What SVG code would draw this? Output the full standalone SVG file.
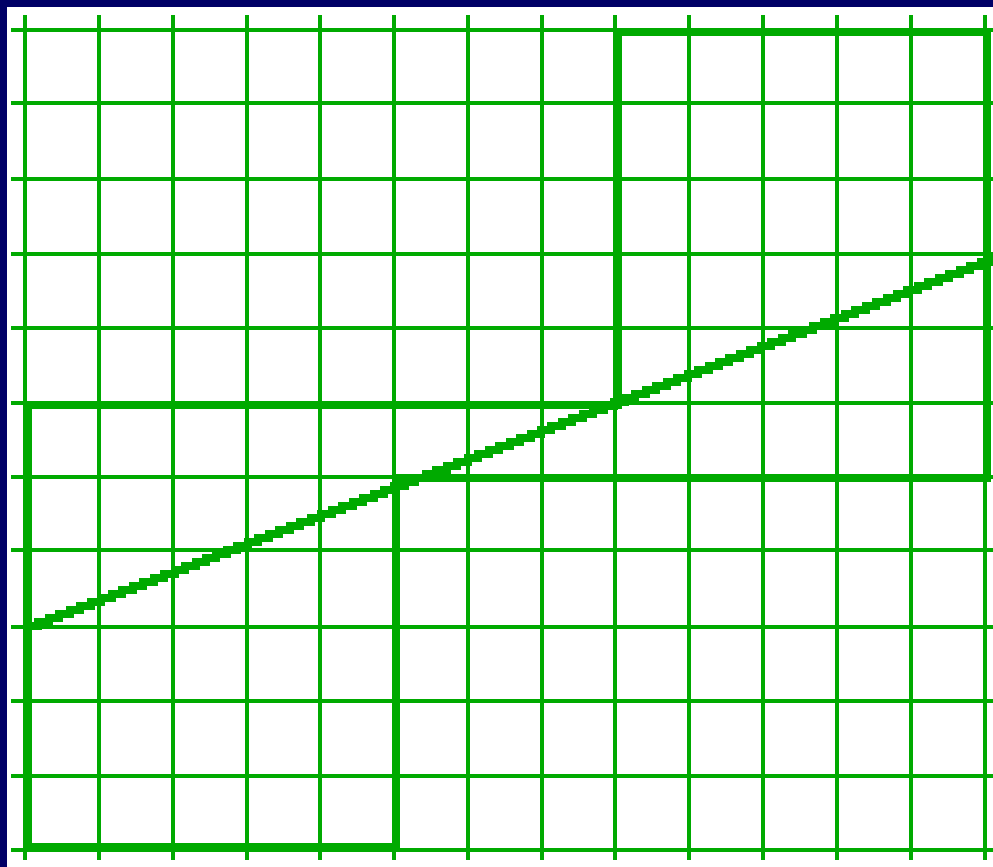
<svg xmlns="http://www.w3.org/2000/svg" width="993" height="867" viewBox="0 0 993 867">
<style>
.g{stroke:#00aa00;stroke-width:4;fill:none;shape-rendering:crispEdges}
.t{stroke:#00aa00;stroke-width:8;fill:none;shape-rendering:crispEdges}
.d{stroke:#00aa00;stroke-width:8;fill:none;stroke-linejoin:miter;shape-rendering:crispEdges}
</style>
<rect x="0" y="0" width="993" height="867" fill="#ffffff"/>
<rect x="0" y="0" width="993" height="7" fill="#000066"/>
<rect x="0" y="0" width="7" height="867" fill="#000066"/>
<g id="grid">
<path class="g" d="M25 15V860M99 15V860M173 15V860M247 15V860M320 15V860M394 15V860M468 15V860M542 15V860M615 15V860M689 15V860M763 15V860M837 15V860M911 15V860M984.5 15V860"/>
<path class="g" d="M11 29.5H993M11 103H993M11 179H993M11 254H993M11 328H993M11 403H993M11 476.5H993M11 550H993M11 627H993M11 701H993M11 776H993M11 849.5H993"/>
</g>
<g id="rectA">
<path class="t" d="M28 401V851M24 847H400M396 474V851M24 405H622"/>
</g>
<g id="rectB">
<path class="t" d="M614 32H991M987 28V482M618 28V409M392 478H991"/>
</g>
<g id="connectors">
<path class="d" d="M28 626h10.47v-4h10.47v-4h10.47v-4h10.47v-4h10.47v-4h10.47v-4h10.47v-4h10.47v-4h10.47v-4h10.47v-4h10.47v-4h10.47v-4h10.47v-4h10.47v-4h10.47v-4h10.47v-4h10.47v-4h10.47v-4h10.47v-4h10.47v-4h10.47v-4h10.47v-4h10.47v-4h10.47v-4h10.47v-4h10.47v-4h10.47v-4h10.47v-4h10.47v-4h10.47v-4h10.47v-4h10.47v-4h10.47v-4h10.47v-4h10.47v-4h10.47v-4h10.47v-4h10.47v-4h10.47v-4h10.47v-4h10.47v-4h10.47v-4h10.47v-4h10.47v-4h10.47v-4h10.47v-4h10.47v-4h10.47v-4h10.47v-4h10.47v-4h10.47v-4h10.47v-4h10.47v-4h10.47v-4h10.47v-4h10.47v-4h10.47v-4h10.47v-4h10.47v-4h10.47v-4h10.47v-4h10.47v-4h10.47v-4h10.47v-4h10.47v-4h10.47v-4h10.47v-4h10.47v-4h10.47v-4h10.47v-4h10.47v-4h10.47v-4h10.47v-4h10.47v-4h10.47v-4h10.47v-4h10.47v-4h10.47v-4h10.47v-4h10.47v-4h10.47v-4h10.47v-4h10.47v-4h10.47v-4h10.47v-4h10.47v-4h10.47v-4h10.47v-4h10.47v-4h10.47v-4h10.47v-4h10.47v-4h6"/>
</g>
</svg>
